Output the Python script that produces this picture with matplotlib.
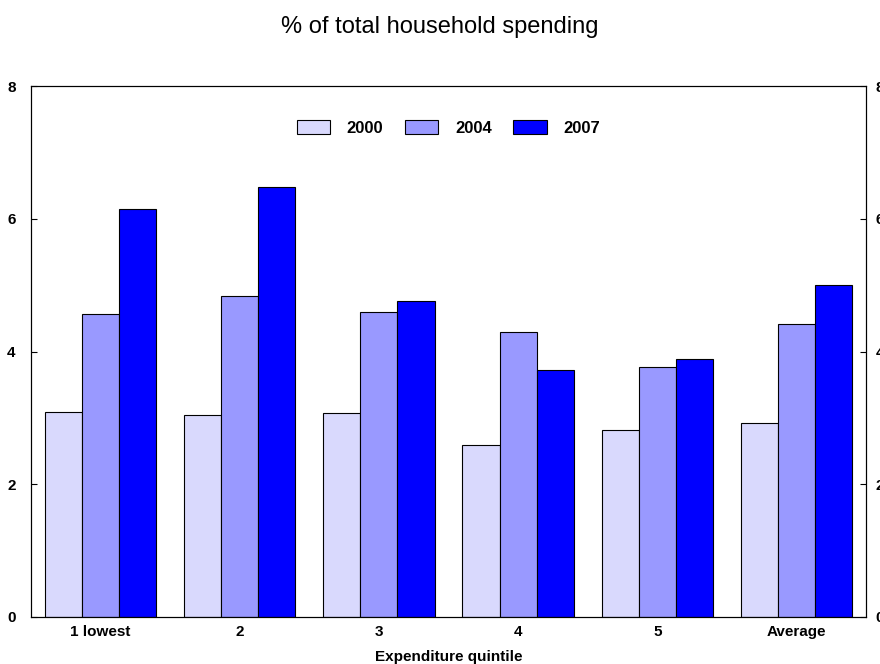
import matplotlib
matplotlib.use("Agg")
import matplotlib.pyplot as plt
import numpy as np

plt.rcParams['font.family'] = ['Liberation Sans', 'DejaVu Sans']

categories = ["1 lowest", "2", "3", "4", "5", "Average"]
years = ["2000", "2004", "2007"]
v2000 = [3.09, 3.04, 3.07, 2.59, 2.82, 2.92]
v2004 = [4.56, 4.84, 4.60, 4.29, 3.77, 4.41]
v2007 = [6.15, 6.48, 4.76, 3.72, 3.89, 5.00]
colors = ["#d9d9fd", "#9999ff", "#0000ff"]
yticks = [0, 2, 4, 6, 8]

fig = plt.figure(figsize=(8.8, 6.64), dpi=100)
ax = fig.add_axes([31/880, 1-617/664, (866-31)/880, (617-86)/664])

x = np.arange(len(categories))
w = 0.267
for i, (vals, c, lab) in enumerate(zip([v2000, v2004, v2007], colors, years)):
    ax.bar(x + (i-1)*w, vals, w, color=c, edgecolor="black", linewidth=0.8, label=lab)

ax.set_xlim(-0.5, len(categories)-0.5)
ax.set_ylim(0, 8)
ax.set_yticks(yticks)
ax.set_yticklabels([str(t) for t in yticks], fontweight="bold", fontsize=11)
ax.set_xticks(x)
ax.set_xticklabels(categories, fontsize=11, fontweight="bold")
ax.tick_params(axis="x", length=0, pad=6)
ax.tick_params(axis="y", direction="in", length=4, pad=11)
ax.set_xlabel("Expenditure quintile", fontweight="bold", fontsize=11, labelpad=8)

ax2 = ax.twinx()
ax2.set_ylim(0, 8)
ax2.set_yticks(yticks)
ax2.set_yticklabels([str(t) for t in yticks], fontweight="bold", fontsize=11)
ax2.tick_params(axis="y", direction="in", length=4, pad=7)

for a in (ax, ax2):
    for s in a.spines.values():
        s.set_linewidth(0.8)

leg = ax.legend(loc="upper center", bbox_to_anchor=(0.5, 0.965), ncol=3, frameon=False,
                handlelength=2.0, handleheight=0.95, columnspacing=1.3,
                handletextpad=1.0, prop={"weight": "bold", "size": 12})

fig.text(0.5, 1-27/664, "% of total household spending", ha="center", va="center", fontsize=17)

fig.savefig("out.png", dpi=100)
